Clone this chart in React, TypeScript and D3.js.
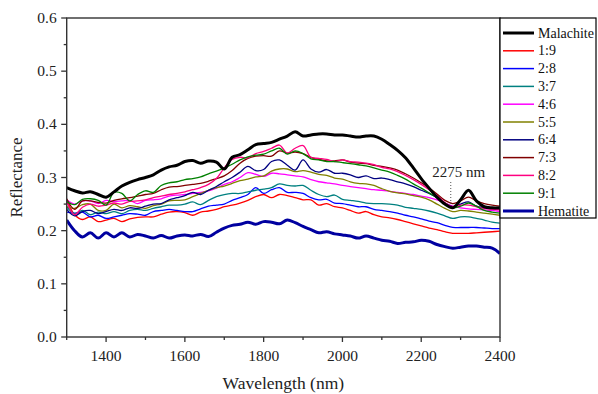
import React from "react";
import * as d3 from "d3";

const wavelengths = [
  1300, 1320, 1340, 1360, 1380, 1400,
  1420, 1440, 1460, 1480, 1500, 1520, 1540, 1560, 1580, 1600,
  1620, 1640, 1660, 1680, 1700, 1720, 1740, 1760, 1780, 1800,
  1820, 1840, 1860, 1880, 1900, 1920, 1940, 1960, 1980, 2000,
  2020, 2040, 2060, 2080, 2100, 2120, 2140, 2160, 2180, 2200,
  2220, 2240, 2260, 2280, 2300, 2320, 2340, 2360, 2380, 2400,
];

const malachite = [
  0.281, 0.275, 0.271, 0.273, 0.268, 0.263,
  0.273, 0.284, 0.291, 0.296, 0.300, 0.305, 0.314, 0.320, 0.323, 0.330,
  0.332, 0.327, 0.331, 0.329, 0.316, 0.338, 0.343, 0.352, 0.362, 0.364,
  0.366, 0.372, 0.378, 0.386, 0.378, 0.380, 0.382, 0.382, 0.380, 0.380,
  0.378, 0.376, 0.378, 0.378, 0.372, 0.362, 0.351, 0.337, 0.318, 0.298,
  0.280, 0.263, 0.250, 0.243, 0.258, 0.276, 0.256, 0.245, 0.243, 0.243,
];
const r19 = [
  0.258, 0.230, 0.221, 0.226, 0.217, 0.220,
  0.223, 0.217, 0.222, 0.225, 0.226, 0.226, 0.231, 0.235, 0.236, 0.234,
  0.229, 0.235, 0.237, 0.240, 0.245, 0.248, 0.252, 0.257, 0.264, 0.268,
  0.262, 0.268, 0.266, 0.262, 0.258, 0.258, 0.248, 0.251, 0.245, 0.243,
  0.238, 0.233, 0.236, 0.230, 0.226, 0.224, 0.221, 0.217, 0.213, 0.209,
  0.205, 0.202, 0.198, 0.195, 0.195, 0.195, 0.196, 0.197, 0.198, 0.199,
];
const r28 = [
  0.235, 0.233, 0.235, 0.226, 0.229, 0.223,
  0.226, 0.229, 0.232, 0.231, 0.229, 0.236, 0.238, 0.240, 0.238, 0.236,
  0.236, 0.241, 0.246, 0.248, 0.250, 0.257, 0.262, 0.268, 0.281, 0.270,
  0.277, 0.281, 0.272, 0.272, 0.270, 0.262, 0.258, 0.259, 0.252, 0.251,
  0.248, 0.245, 0.245, 0.240, 0.238, 0.236, 0.233, 0.229, 0.226, 0.222,
  0.218, 0.215, 0.210, 0.206, 0.206, 0.206, 0.206, 0.205, 0.204, 0.204,
];
const r37 = [
  0.245, 0.232, 0.238, 0.230, 0.235, 0.232,
  0.236, 0.232, 0.238, 0.240, 0.238, 0.242, 0.245, 0.248, 0.248, 0.250,
  0.254, 0.249, 0.257, 0.264, 0.268, 0.270, 0.270, 0.273, 0.276, 0.278,
  0.281, 0.288, 0.285, 0.284, 0.285, 0.276, 0.268, 0.264, 0.267, 0.259,
  0.257, 0.255, 0.252, 0.251, 0.251, 0.250, 0.248, 0.244, 0.242, 0.240,
  0.237, 0.233, 0.228, 0.223, 0.226, 0.226, 0.223, 0.220, 0.216, 0.214,
];
const r46 = [
  0.258, 0.250, 0.256, 0.256, 0.251, 0.257,
  0.255, 0.256, 0.257, 0.251, 0.257, 0.258, 0.260, 0.265, 0.267, 0.268,
  0.270, 0.272, 0.275, 0.280, 0.287, 0.292, 0.300, 0.309, 0.306, 0.302,
  0.308, 0.307, 0.305, 0.303, 0.301, 0.296, 0.292, 0.290, 0.288, 0.285,
  0.283, 0.281, 0.279, 0.277, 0.276, 0.274, 0.272, 0.270, 0.268, 0.265,
  0.262, 0.258, 0.252, 0.246, 0.243, 0.241, 0.240, 0.239, 0.238, 0.236,
];
const r55 = [
  0.245, 0.242, 0.249, 0.250, 0.238, 0.238,
  0.250, 0.243, 0.247, 0.245, 0.242, 0.247, 0.250, 0.256, 0.257, 0.258,
  0.264, 0.270, 0.276, 0.281, 0.284, 0.289, 0.294, 0.297, 0.301, 0.303,
  0.312, 0.316, 0.316, 0.311, 0.313, 0.310, 0.306, 0.304, 0.299, 0.297,
  0.292, 0.289, 0.288, 0.285, 0.279, 0.274, 0.271, 0.269, 0.266, 0.263,
  0.258, 0.250, 0.242, 0.236, 0.238, 0.237, 0.235, 0.233, 0.231, 0.229,
];
const r64 = [
  0.240, 0.228, 0.236, 0.238, 0.232, 0.236,
  0.240, 0.238, 0.243, 0.242, 0.246, 0.250, 0.251, 0.258, 0.262, 0.266,
  0.272, 0.268, 0.276, 0.283, 0.292, 0.300, 0.310, 0.321, 0.313, 0.315,
  0.330, 0.333, 0.323, 0.314, 0.333, 0.316, 0.310, 0.315, 0.308, 0.308,
  0.305, 0.300, 0.303, 0.298, 0.299, 0.296, 0.292, 0.288, 0.283, 0.276,
  0.270, 0.262, 0.252, 0.245, 0.250, 0.254, 0.246, 0.243, 0.241, 0.240,
];
const r73 = [
  0.260, 0.240, 0.256, 0.256, 0.253, 0.252,
  0.257, 0.260, 0.262, 0.265, 0.268, 0.270, 0.277, 0.282, 0.283, 0.285,
  0.287, 0.289, 0.293, 0.298, 0.303, 0.313, 0.327, 0.336, 0.340, 0.341,
  0.340, 0.350, 0.346, 0.348, 0.345, 0.338, 0.334, 0.331, 0.331, 0.333,
  0.329, 0.327, 0.326, 0.323, 0.321, 0.318, 0.314, 0.307, 0.299, 0.290,
  0.280, 0.269, 0.257, 0.251, 0.256, 0.263, 0.256, 0.251, 0.248, 0.246,
];
const r82 = [
  0.255, 0.230, 0.244, 0.250, 0.246, 0.248,
  0.252, 0.250, 0.255, 0.256, 0.258, 0.262, 0.265, 0.268, 0.270, 0.273,
  0.277, 0.281, 0.287, 0.298, 0.318, 0.334, 0.338, 0.337, 0.345, 0.349,
  0.355, 0.361, 0.346, 0.355, 0.360, 0.338, 0.336, 0.334, 0.330, 0.333,
  0.330, 0.329, 0.327, 0.324, 0.319, 0.316, 0.311, 0.304, 0.296, 0.287,
  0.277, 0.266, 0.253, 0.245, 0.248, 0.248, 0.245, 0.242, 0.240, 0.239,
];
const r91 = [
  0.255, 0.249, 0.259, 0.260, 0.257, 0.248,
  0.272, 0.270, 0.256, 0.268, 0.275, 0.272, 0.285, 0.290, 0.292, 0.296,
  0.298, 0.301, 0.307, 0.312, 0.318, 0.325, 0.333, 0.339, 0.342, 0.344,
  0.350, 0.355, 0.344, 0.350, 0.345, 0.335, 0.333, 0.330, 0.330, 0.328,
  0.326, 0.324, 0.322, 0.318, 0.314, 0.310, 0.304, 0.297, 0.288, 0.280,
  0.271, 0.262, 0.251, 0.243, 0.246, 0.252, 0.246, 0.238, 0.235, 0.233,
];
const hematite = [
  0.220, 0.200, 0.188, 0.196, 0.186, 0.196,
  0.188, 0.196, 0.188, 0.193, 0.190, 0.186, 0.191, 0.186, 0.190, 0.192,
  0.190, 0.193, 0.189, 0.197, 0.205, 0.210, 0.212, 0.216, 0.212, 0.217,
  0.216, 0.213, 0.220, 0.215, 0.208, 0.202, 0.196, 0.198, 0.194, 0.192,
  0.190, 0.186, 0.190, 0.186, 0.182, 0.180, 0.176, 0.178, 0.179, 0.182,
  0.180, 0.174, 0.170, 0.167, 0.169, 0.171, 0.171, 0.169, 0.167, 0.157,
];

const seriesNames = ["Malachite", "1:9", "2:8", "3:7", "4:6", "5:5", "6:4", "7:3", "8:2", "9:1", "Hematite"];
const seriesValues = [malachite, r19, r28, r37, r46, r55, r64, r73, r82, r91, hematite];
const seriesColors = ["#000000", "#FF0000", "#0000FF", "#008080", "#FF00FF", "#808000", "#000080", "#800000", "#FF0080", "#008000", "#0000A0"];
const seriesWidths = [3, 1.3, 1.3, 1.3, 1.3, 1.3, 1.3, 1.3, 1.3, 1.3, 3];

const yTicks = [0.0, 0.1, 0.2, 0.3, 0.4, 0.5, 0.6];
const yMinorTicks = [0.05, 0.15, 0.25, 0.35, 0.45, 0.55];
const xTicks = [1400, 1600, 1800, 2000, 2200, 2400];
const xMinorTicks = [1300, 1500, 1700, 1900, 2100, 2300];
const annotationWl = 2275;
const annotationText = "2275 nm";

const W = 598;
const H = 394;
const L = 66.7, R = 500, T = 18, B = 337;
const FONT = "'Liberation Serif', 'Times New Roman', serif";

export default function App() {
  const x = d3.scaleLinear().domain([1300, 2400]).range([L, R]);
  const y = d3.scaleLinear().domain([0, 0.6]).range([B, T]);
  const order = [1, 2, 3, 4, 5, 6, 7, 8, 9, 0, 10];
  const axisColor = "#333";

  return (
    <svg width={W} height={H} style={{ position: "absolute", left: 0, top: 0, background: "#fff" }}>
      <defs>
        <clipPath id="plot">
          <rect x={L} y={T} width={R - L} height={B - T} />
        </clipPath>
      </defs>
      <g clipPath="url(#plot)">
        {order.map((i) => {
          const line = d3
            .line<number>()
            .x((_, k) => x(wavelengths[k]))
            .y((v) => y(v))
            .curve(d3.curveCatmullRom.alpha(0.5));
          return (
            <path
              key={i}
              d={line(seriesValues[i]) || ""}
              fill="none"
              stroke={seriesColors[i]}
              strokeWidth={seriesWidths[i]}
              strokeLinejoin="round"
            />
          );
        })}
      </g>
      {/* frame */}
      <rect x={L} y={T} width={R - L} height={B - T} fill="none" stroke={axisColor} strokeWidth={1.4} />
      {/* y ticks */}
      {yTicks.map((t) => (
        <g key={"y" + t}>
          <line x1={L - 5.5} x2={L} y1={y(t)} y2={y(t)} stroke={axisColor} strokeWidth={1.3} />
          <text x={L - 10} y={y(t) + 5} textAnchor="end" fontFamily={FONT} fontSize={15.5} fill="#222">
            {d3.format(".1f")(t)}
          </text>
        </g>
      ))}
      {yMinorTicks.map((t) => (
        <line key={"ym" + t} x1={L - 3} x2={L} y1={y(t)} y2={y(t)} stroke={axisColor} strokeWidth={1.3} />
      ))}
      {/* x ticks */}
      {xTicks.map((t) => (
        <g key={"x" + t}>
          <line x1={x(t)} x2={x(t)} y1={B} y2={B + 5} stroke={axisColor} strokeWidth={1.3} />
          <text x={x(t)} y={B + 23.5} textAnchor="middle" fontFamily={FONT} fontSize={15.5} fill="#222">
            {t}
          </text>
        </g>
      ))}
      {xMinorTicks.map((t) => (
        <line key={"xm" + t} x1={x(t)} x2={x(t)} y1={B} y2={B + 3} stroke={axisColor} strokeWidth={1.3} />
      ))}
      {/* axis titles */}
      <text x={(L + R) / 2} y={389} textAnchor="middle" fontFamily={FONT} fontSize={17.5} fill="#222">
        Wavelength (nm)
      </text>
      <text
        transform={`translate(22, ${(T + B) / 2}) rotate(-90)`}
        textAnchor="middle"
        fontFamily={FONT}
        fontSize={17}
        fill="#222"
      >
        Reflectance
      </text>
      {/* annotation */}
      <line
        x1={x(annotationWl)}
        x2={x(annotationWl)}
        y1={182}
        y2={204}
        stroke="#555"
        strokeWidth={1}
        strokeDasharray="1,2"
      />
      <text x={x(annotationWl) + 8} y={177} textAnchor="middle" fontFamily={FONT} fontSize={15} fill="#222">
        {annotationText}
      </text>
      {/* legend */}
      <rect x={R} y={T} width={96} height={200} fill="#fff" stroke="#000" strokeWidth={1.2} />
      {seriesNames.map((name, i) => {
        const ly = 33 + i * 17.8;
        return (
          <g key={name}>
            <line x1={503} x2={534} y1={ly} y2={ly} stroke={seriesColors[i]} strokeWidth={seriesWidths[i] === 3 ? 3 : 1.5} />
            <text x={538} y={ly + 4.5} fontFamily={FONT} fontSize={14} fill="#111">
              {name}
            </text>
          </g>
        );
      })}
    </svg>
  );
}
